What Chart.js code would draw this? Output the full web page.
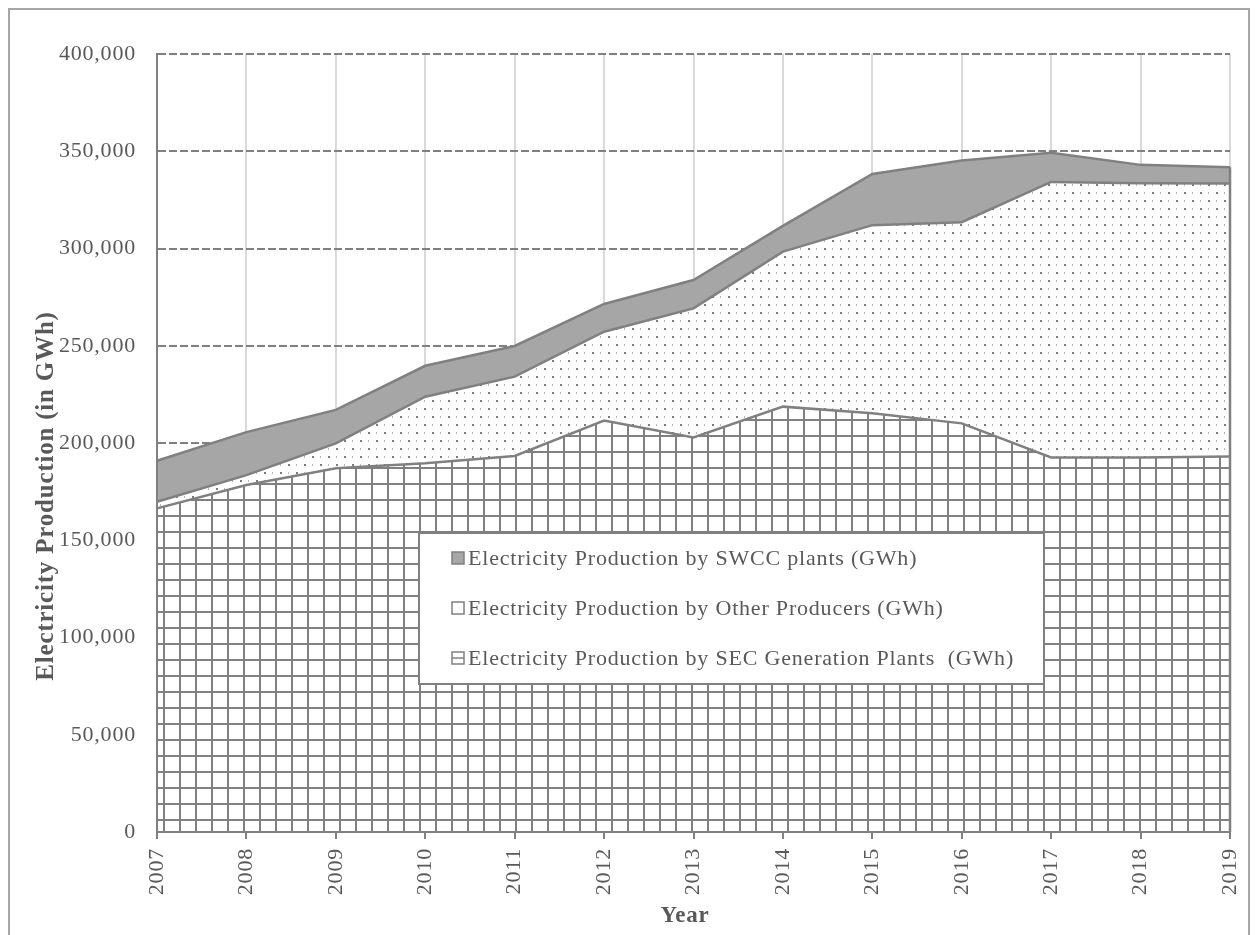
<!DOCTYPE html>
<html>
<head>
<meta charset="utf-8">
<script src="https://cdn.jsdelivr.net/npm/chart.js@4/dist/chart.umd.min.js"></script>
<style>
  html, body { margin: 0; padding: 0; background: #fff; overflow: hidden; }
  #wrap { position: relative; width: 1257px; height: 935px; }
  #wrap canvas { position: absolute; left: 0; top: 0; }
  #frame { position: absolute; left: 8px; top: 8px; width: 1242px; height: 1000px;
           border: 2px solid #a6a6a6; box-sizing: border-box; pointer-events: none; }
</style>
</head>
<body>
<div id="wrap">
  <canvas id="chart" width="1257" height="935"></canvas>
  <div id="frame"></div>
</div>
<script>
// Annual electricity production, GWh
const years = ['2007', '2008', '2009', '2010', '2011', '2012', '2013',
               '2014', '2015', '2016', '2017', '2018', '2019'];
const secGeneration  = [166400, 178400, 187000, 189600, 193300, 211500, 202900,
                        218700, 215300, 210100, 192600, 192600, 193000];
const otherProducers = [3400, 5100, 12800, 34200, 40800, 45700, 66300,
                        79700, 96700, 103400, 141600, 141000, 140400];
const swccPlants     = [21100, 22100, 17200, 15900, 15800, 14300, 14600,
                        13200, 26300, 31700, 15000, 9400, 8400];

const seriesLabels = {
  sec:   'Electricity Production by SEC Generation Plants  (GWh)',
  other: 'Electricity Production by Other Producers (GWh)',
  swcc:  'Electricity Production by SWCC plants (GWh)'
};
const yTitle = 'Electricity Production (in GWh)';
const xTitle = 'Year';
const yMin = 0, yMax = 400000, yStep = 50000;

const FONT = "'Liberation Serif', 'Times New Roman', serif";
const TEXT = '#595959';
const LINE = '#808080';
const SPACING = '0.8px';

Chart.defaults.font.family = FONT;
Chart.defaults.color = TEXT;

const canvas = document.getElementById('chart');
const ctx = canvas.getContext('2d');

// square grid texture
function gridPattern() {
  const t = document.createElement('canvas');
  t.width = 16; t.height = 16;
  const g = t.getContext('2d');
  g.fillStyle = '#ffffff'; g.fillRect(0, 0, 16, 16);
  g.fillStyle = LINE;
  g.fillRect(3, 0, 2, 16);
  g.fillRect(0, 3, 16, 2);
  return ctx.createPattern(t, 'repeat');
}
// light dotted texture
function dotPattern() {
  const t = document.createElement('canvas');
  t.width = 16; t.height = 16;
  const g = t.getContext('2d');
  g.fillStyle = '#ffffff'; g.fillRect(0, 0, 16, 16);
  g.fillStyle = '#7a7a7a';
  g.fillRect(0, 0, 2, 2);
  g.fillRect(8, 8, 2, 2);
  g.fillStyle = '#b8b8b8';
  g.fillRect(8, 0, 1, 2);
  g.fillRect(0, 8, 1, 2);
  return ctx.createPattern(t, 'repeat');
}

const decor = {
  id: 'decor',
  beforeDraw(chart) {
    chart.ctx.letterSpacing = SPACING;
  },
  afterDatasetsDraw(chart) {
    // close the right-hand edge of the stacked areas
    const c = chart.ctx, area = chart.chartArea;
    const last = chart.getDatasetMeta(chart.data.datasets.length - 1).data.at(-1);
    c.save();
    c.strokeStyle = LINE; c.lineWidth = 2.5;
    c.beginPath(); c.moveTo(last.x, last.y); c.lineTo(last.x, area.bottom); c.stroke();
    c.restore();
  },
  afterDraw(chart) {
    const c = chart.ctx;
    c.save();
    c.letterSpacing = SPACING;
    // legend box
    const bx = 419, by = 533, bw = 625, bh = 151;
    c.fillStyle = '#ffffff';
    c.fillRect(bx, by, bw, bh);
    c.strokeStyle = LINE; c.lineWidth = 2;
    c.strokeRect(bx, by, bw, bh);
    const ds = chart.data.datasets.slice().reverse();
    c.font = '22px ' + FONT;
    c.textBaseline = 'middle';
    c.textAlign = 'left';
    ds.forEach((d, i) => {
      const cy = 558 + i * 50;
      const ix = 452, iy = cy - 6, s = 12;
      c.fillStyle = d.legendFill;
      c.fillRect(ix, iy, s, s);
      c.strokeStyle = LINE; c.lineWidth = 1.5;
      c.strokeRect(ix, iy, s, s);
      if (d.legendBar) {
        c.beginPath(); c.moveTo(ix, iy + s / 2); c.lineTo(ix + s, iy + s / 2); c.stroke();
      }
      c.fillStyle = TEXT;
      c.fillText(d.label, 468, cy + 1);
    });
    // axis titles
    c.fillStyle = TEXT;
    c.textAlign = 'center';
    c.font = 'bold 23px ' + FONT;
    c.fillText(xTitle, 685, 916);
    c.font = 'bold 25px ' + FONT;
    c.translate(47, 496);
    c.rotate(-Math.PI / 2);
    c.fillText(yTitle, 0, 0);
    c.restore();
  }
};

new Chart(ctx, {
  type: 'line',
  data: {
    labels: years,
    datasets: [
      { label: seriesLabels.sec, data: secGeneration, fill: 'origin',
        backgroundColor: gridPattern(), borderColor: LINE, borderWidth: 2.5,
        legendFill: '#ffffff', legendBar: true },
      { label: seriesLabels.other, data: otherProducers, fill: '-1',
        backgroundColor: dotPattern(), borderColor: LINE, borderWidth: 2.5,
        legendFill: '#ffffff', legendBar: false },
      { label: seriesLabels.swcc, data: swccPlants, fill: '-1',
        backgroundColor: '#a6a6a6', borderColor: LINE, borderWidth: 2.5,
        legendFill: '#a6a6a6', legendBar: false }
    ]
  },
  options: {
    responsive: false,
    animation: false,
    devicePixelRatio: 1,
    layout: { padding: { left: 0, top: 54, right: 27, bottom: 0 } },
    elements: { point: { radius: 0, hoverRadius: 0 }, line: { tension: 0 } },
    plugins: { legend: { display: false }, tooltip: { enabled: false } },
    scales: {
      x: {
        offset: false,
        grid: { color: '#d9d9d9', lineWidth: 2, drawTicks: true, tickLength: 7,
                tickColor: LINE, tickWidth: 2 },
        border: { display: true, color: LINE, width: 2, z: 1 },
        ticks: { autoSkip: false, minRotation: 90, maxRotation: 90, padding: 9,
                 font: { size: 22 }, color: TEXT },
        afterFit(s) { s.height = 103; s.paddingLeft = 0; s.paddingRight = 0; }
      },
      y: {
        stacked: true,
        min: yMin, max: yMax,
        grid: { color: LINE, lineWidth: 2, drawTicks: false },
        border: { display: true, color: LINE, width: 2, dash: [8, 3], z: 1 },
        ticks: { stepSize: yStep, padding: 21, font: { size: 22 }, color: TEXT,
                 callback: v => v.toLocaleString('en-US') },
        afterFit(s) { s.width = 157; s.paddingTop = 0; s.paddingBottom = 0; }
      }
    }
  },
  plugins: [decor]
});
</script>
</body>
</html>
